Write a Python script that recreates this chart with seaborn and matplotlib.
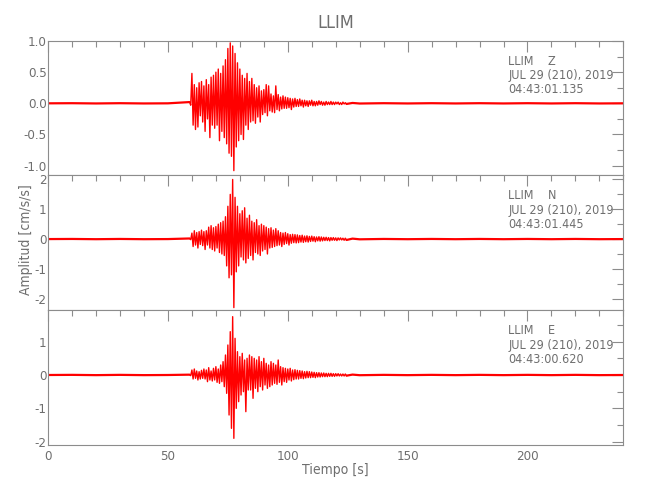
import numpy as np
import matplotlib
matplotlib.use('Agg')
import matplotlib.pyplot as plt
from matplotlib.ticker import MultipleLocator, FormatStrFormatter
import seaborn as sns

# station / component info
station = 'LLIM'
comps = ['Z', 'N', 'E']
date_txt = 'JUL 29 (210), 2019'
start_times = ['04:43:01.135', '04:43:01.445', '04:43:00.620']

# event part of each trace, samples every 0.5 s starting at 59.0 s
ev_t0 = 59.0
ev_dt = 0.5
acc_z = [0.02, -0.03, 0.48, -0.35, 0.30, -0.42, 0.25, -0.38, 0.33, -0.20,
         0.35, -0.30, 0.28, -0.45, 0.38, -0.25, 0.30, -0.55, 0.42, -0.35,
         0.45, -0.40, 0.50, -0.35, 0.55, -0.60, 0.48, -0.45, 0.60, -0.55,
         0.70, -0.65, 0.88, -0.80, 0.97, -0.85, 0.92, -1.08, 0.80, -0.70,
         0.65, -0.60, 0.55, -0.50, 0.45, -0.58, 0.40, -0.35, 0.48, -0.42,
         0.35, -0.30, 0.40, -0.28, 0.30, -0.32, 0.25, -0.22, 0.28, -0.30,
         0.20, -0.18, 0.22, -0.15, 0.30, -0.20, 0.28, -0.12, 0.15, -0.14,
         0.12, -0.15, 0.28, -0.10, 0.14, -0.12, 0.10, -0.09, 0.12, -0.08,
         0.10, -0.08, 0.09, -0.07, 0.08, -0.10, 0.07, -0.06, 0.08, -0.05,
         0.06, -0.05, 0.07, -0.04, 0.05, -0.06, 0.05, -0.04, 0.04, -0.05,
         0.04, -0.03, 0.05, -0.04, 0.03, -0.04, 0.03, -0.03, 0.04, -0.02,
         0.03, -0.03, 0.02, -0.03, 0.03, -0.02, 0.02, -0.02, 0.03, -0.02,
         0.02, -0.02, 0.02, -0.01, 0.02, -0.02, 0.01, -0.02, 0.02, -0.01, 0.01, -0.01]
acc_n = [0.02, -0.02, 0.20, -0.25, 0.28, -0.20, 0.22, -0.30, 0.25, -0.18,
         0.30, -0.22, 0.25, -0.35, 0.28, -0.20, 0.40, -0.30, 0.45, -0.35,
         0.38, -0.40, 0.42, -0.30, 0.50, -0.45, 0.55, -0.50, 0.60, -0.55,
         0.75, -0.90, 1.10, -1.30, 1.50, -1.20, 2.00, -2.30, 1.40, -1.10,
         1.10, -0.90, 0.85, -0.60, 0.95, -0.70, 1.05, -0.80, 0.70, -0.65,
         0.80, -0.55, 0.60, -0.70, 0.55, -0.45, 0.65, -0.50, 0.45, -0.55,
         0.50, -0.40, 0.45, -0.35, 0.40, -0.50, 0.35, -0.30, 0.38, -0.28,
         0.30, -0.25, 0.35, -0.22, 0.28, -0.20, 0.22, -0.25, 0.20, -0.18,
         0.22, -0.15, 0.18, -0.20, 0.15, -0.14, 0.16, -0.12, 0.15, -0.13,
         0.14, -0.12, 0.12, -0.10, 0.13, -0.11, 0.10, -0.09, 0.11, -0.10,
         0.09, -0.08, 0.10, -0.07, 0.08, -0.09, 0.07, -0.06, 0.08, -0.07,
         0.07, -0.06, 0.06, -0.05, 0.06, -0.05, 0.05, -0.06, 0.05, -0.04,
         0.05, -0.04, 0.04, -0.05, 0.04, -0.03, 0.04, -0.03, 0.03, -0.04, 0.03, -0.03]
acc_e = [0.01, -0.02, 0.15, -0.12, 0.18, -0.10, 0.12, -0.15, 0.10, -0.12,
         0.14, -0.10, 0.18, -0.12, 0.15, -0.20, 0.22, -0.15, 0.12, -0.18,
         0.20, -0.15, 0.25, -0.22, 0.18, -0.25, 0.30, -0.20, 0.40, -0.35,
         0.60, -0.55, 0.90, -1.20, 1.30, -1.60, 1.75, -1.90, 1.10, -1.00,
         0.70, -0.80, 0.55, -0.60, 0.65, -0.50, 0.45, -1.10, 0.50, -0.45,
         0.60, -0.45, 0.55, -0.70, 0.50, -0.40, 0.45, -0.50, 0.55, -0.35,
         0.40, -0.45, 0.50, -0.30, 0.35, -0.40, 0.30, -0.35, 0.40, -0.30,
         0.35, -0.25, 0.30, -0.28, 0.45, -0.22, 0.25, -0.30, 0.22, -0.20,
         0.20, -0.22, 0.18, -0.15, 0.20, -0.18, 0.15, -0.14, 0.16, -0.12,
         0.14, -0.12, 0.13, -0.10, 0.12, -0.11, 0.10, -0.09, 0.11, -0.08,
         0.10, -0.08, 0.09, -0.07, 0.08, -0.08, 0.07, -0.06, 0.07, -0.06,
         0.06, -0.05, 0.06, -0.05, 0.05, -0.05, 0.05, -0.04, 0.05, -0.04,
         0.04, -0.04, 0.04, -0.03, 0.04, -0.03, 0.03, -0.03, 0.03, -0.03, 0.03, -0.02]

# quiet background (before / after the event)
pre_t = [0, 10, 20, 30, 40, 50, 59]
pre_z = [0.0, 0.002, -0.002, 0.002, -0.002, 0.0, 0.02]
pre_n = [0.0, 0.004, -0.004, 0.004, -0.004, 0.0, 0.02]
pre_e = [0.0, 0.004, -0.004, 0.004, -0.004, 0.0, 0.01]
post_t = [124.5, 127, 130, 140, 150, 160, 170, 180, 190, 200, 210, 220, 230, 240]
post_z = [-0.01, 0.006, -0.003, 0.002, -0.002, 0.002, -0.002, 0.002, -0.002, 0.002, -0.002, 0.002, -0.002, 0.0]
post_n = [-0.03, 0.015, -0.008, 0.004, -0.004, 0.004, -0.004, 0.004, -0.004, 0.004, -0.004, 0.004, -0.004, 0.0]
post_e = [-0.02, 0.012, -0.006, 0.004, -0.004, 0.004, -0.004, 0.004, -0.004, 0.004, -0.004, 0.004, -0.004, 0.0]

events = [acc_z, acc_n, acc_e]
pres = [pre_z, pre_n, pre_e]
posts = [post_z, post_n, post_e]

ylims = [(-1.15, 1.0), (-2.38, 2.15), (-2.1, 1.95)]
ymajor = [0.5, 1.0, 1.0]
yminor = [0.25, 0.5, 0.5]
yfmt = ['%.1f', '%d', '%d']

sns.set_style('white')
plt.rcParams['font.family'] = ['DejaVu Sans']
plt.rcParams['font.stretch'] = 'condensed'
plt.rcParams['axes.unicode_minus'] = False
gray = '#6e6e6e'

fig = plt.figure(figsize=(6.5, 5), dpi=100)
# axes boxes (left, bottom, width, height) in figure fractions
boxes = [(0.074, 0.650, 0.885, 0.268),
         (0.074, 0.380, 0.885, 0.270),
         (0.074, 0.110, 0.885, 0.270)]

for i in range(3):
    ax = fig.add_axes(boxes[i])
    ev = events[i]
    ev_time = ev_t0 + ev_dt * np.arange(len(ev))
    sns.lineplot(x=pre_t, y=pres[i], ax=ax, color='red', lw=1.6, estimator=None, sort=False)
    sns.lineplot(x=post_t, y=posts[i], ax=ax, color='red', lw=1.6, estimator=None, sort=False)
    sns.lineplot(x=ev_time, y=ev, ax=ax, color='red', lw=1.0, estimator=None, sort=False)
    ax.set_xlim(0, 240)
    ax.set_ylim(*ylims[i])
    ax.xaxis.set_major_locator(MultipleLocator(50))
    ax.xaxis.set_minor_locator(MultipleLocator(10))
    ax.yaxis.set_major_locator(MultipleLocator(ymajor[i]))
    ax.yaxis.set_minor_locator(MultipleLocator(yminor[i]))
    ax.yaxis.set_major_formatter(FormatStrFormatter(yfmt[i]))
    ax.tick_params(which='both', direction='in', top=True, right=True,
                   color='#8c8c8c', labelcolor=gray, labelsize=9.5, width=0.8)
    ax.tick_params(which='major', length=8)
    ax.tick_params(which='minor', length=4)
    ax.tick_params(axis='y', pad=1)
    if i < 2:
        ax.tick_params(labelbottom=False)
    for s in ax.spines.values():
        s.set_color('#8c8c8c')
        s.set_linewidth(0.8)
    ax.set_xlabel('')
    ax.set_ylabel('')
    ax.text(0.80, 0.85, station + '    ' + comps[i], transform=ax.transAxes,
            color=gray, fontsize=9, va='center')
    ax.text(0.80, 0.74, date_txt, transform=ax.transAxes,
            color=gray, fontsize=9, va='center')
    ax.text(0.80, 0.635, start_times[i], transform=ax.transAxes,
            color=gray, fontsize=9, va='center')

fig.text(0.516, 0.954, station, ha='center', va='center', color=gray, fontsize=13)
fig.text(0.04, 0.52, 'Amplitud [cm/s/s]', ha='center', va='center',
         rotation=90, color=gray, fontsize=10)
fig.text(0.516, 0.06, 'Tiempo [s]', ha='center', va='center', color=gray, fontsize=10)

fig.savefig('out.png', dpi=100)
